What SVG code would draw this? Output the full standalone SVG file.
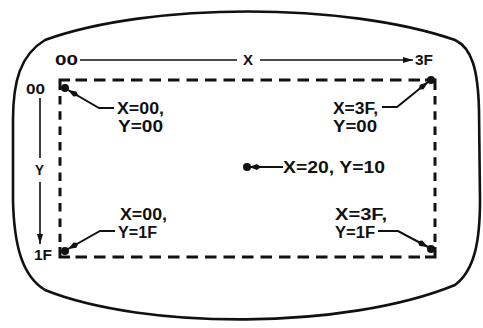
<svg xmlns="http://www.w3.org/2000/svg" width="483" height="328" viewBox="0 0 483 328">
<defs>
<style>
.screen{fill:none;stroke:#111;stroke-width:2.6}
.dash{fill:none;stroke:#111;stroke-width:3}
.axis{fill:none;stroke:#111;stroke-width:1.6}
.lead{fill:none;stroke:#111;stroke-width:2}
.ax{font-family:"Liberation Sans",Arial,sans-serif;font-size:14px;font-weight:bold;fill:#111}
.lb{font-family:"Liberation Sans",Arial,sans-serif;font-size:16px;font-weight:bold;fill:#111}
.dot{fill:#111}
</style>
<marker id="arr" viewBox="0 0 10 6" refX="10" refY="3" markerWidth="10" markerHeight="6" markerUnits="userSpaceOnUse" orient="auto">
<path d="M0,0 L10,3 L0,6 Z" fill="#111"/>
</marker>
<marker id="larr" viewBox="0 0 12 7" refX="12" refY="3.5" markerWidth="12" markerHeight="7" markerUnits="userSpaceOnUse" orient="auto">
<path d="M0,3.5 L4,0.5 L12,3.5 L4,6.5 Z" fill="#111"/>
</marker>
</defs>
<path class="screen" d="M45,40 C150,2 345,2 455,40 C472,48 478,70 479,110 L480,200 C480,240 475,270 455,285 C345,330 145,330 45,290 C22,276 14,245 13,200 L13,120 C13,82 20,55 45,40 Z"/>
<g id="frame">
<path class="dash" d="M60,90 V80 H70 M425,80 H435 V90 M60,247 V257 H70 M425,257 H435 V247"/>
<path class="dash" d="M75.5,80 H420" stroke-dasharray="11.5 7"/>
<path class="dash" d="M75.5,257 H420" stroke-dasharray="11.5 7"/>
<path class="dash" d="M60,96 V242" stroke-dasharray="8.5 6.8"/>
<path class="dash" d="M435,96 V242" stroke-dasharray="8.5 6.8"/>
</g>
<g id="x-axis">
<text class="ax" x="55" y="65" textLength="23" lengthAdjust="spacingAndGlyphs">00</text>
<text class="ax" x="243" y="65" textLength="10" lengthAdjust="spacingAndGlyphs">X</text>
<text class="ax" x="415" y="65" textLength="18" lengthAdjust="spacingAndGlyphs">3F</text>
</g>
<g id="y-axis">
<text class="ax" x="26" y="94" textLength="19" lengthAdjust="spacingAndGlyphs">00</text>
<text class="ax" x="35" y="175" textLength="9" lengthAdjust="spacingAndGlyphs">Y</text>
<text class="ax" x="34" y="260" textLength="18" lengthAdjust="spacingAndGlyphs">1F</text>
</g>
<g id="p-top-left">
<circle class="dot" cx="65" cy="88" r="4"/>
<text class="lb" x="117" y="114" textLength="47" lengthAdjust="spacingAndGlyphs">X=00,</text>
<text class="lb" x="118" y="132" textLength="45" lengthAdjust="spacingAndGlyphs">Y=00</text>
</g>
<g id="p-top-right">
<circle class="dot" cx="431" cy="80" r="4"/>
<text class="lb" x="333" y="114" textLength="45" lengthAdjust="spacingAndGlyphs">X=3F,</text>
<text class="lb" x="333" y="132" textLength="44" lengthAdjust="spacingAndGlyphs">Y=00</text>
</g>
<g id="p-center">
<circle class="dot" cx="247" cy="167" r="4"/>
<text class="lb" x="283" y="173" textLength="102" lengthAdjust="spacingAndGlyphs">X=20, Y=10</text>
</g>
<g id="p-bottom-left">
<circle class="dot" cx="65" cy="251" r="4"/>
<text class="lb" x="120" y="220" textLength="47" lengthAdjust="spacingAndGlyphs">X=00,</text>
<text class="lb" x="118" y="238" textLength="39" lengthAdjust="spacingAndGlyphs">Y=1F</text>
</g>
<g id="p-bottom-right">
<circle class="dot" cx="431" cy="249" r="4"/>
<text class="lb" x="335" y="220" textLength="52" lengthAdjust="spacingAndGlyphs">X=3F,</text>
<text class="lb" x="335" y="238" textLength="40" lengthAdjust="spacingAndGlyphs">Y=1F</text>
</g>
<g id="connectors">
<path class="axis" d="M80,60 H237"/>
<path class="axis" d="M260,60 H413" marker-end="url(#arr)"/>
<path class="axis" d="M40,98 V158"/>
<path class="axis" d="M40,182 V244" marker-end="url(#arr)"/>
<path class="lead" d="M114,108 H99 L68,90" marker-end="url(#larr)"/>
<path class="lead" d="M382,107 H397 L428,82" marker-end="url(#larr)"/>
<path class="lead" d="M283,167 H249" marker-end="url(#larr)"/>
<path class="lead" d="M115,231 H100 L68,249" marker-end="url(#larr)"/>
<path class="lead" d="M378,231 H398 L428,247" marker-end="url(#larr)"/>
</g>
</svg>
